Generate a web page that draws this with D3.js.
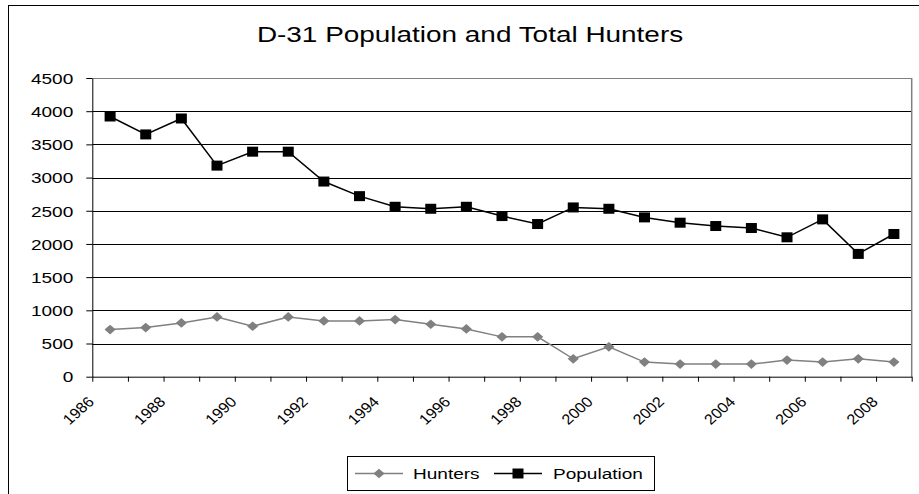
<!DOCTYPE html>
<html>
<head>
<meta charset="utf-8">
<script src="https://cdn.jsdelivr.net/npm/d3@7/dist/d3.min.js"></script>
<style>
  body { margin: 0; background: #fff; }
  text { font-family: "Liberation Sans", Arial, sans-serif; fill: #000; }
</style>
</head>
<body>
<script>
// chart data
var years = [1986, 1987, 1988, 1989, 1990, 1991, 1992, 1993, 1994, 1995, 1996, 1997,
             1998, 1999, 2000, 2001, 2002, 2003, 2004, 2005, 2006, 2007, 2008];
var population = [3920, 3650, 3890, 3180, 3390, 3390, 2940, 2720, 2560, 2530, 2560, 2420,
                  2300, 2550, 2530, 2400, 2320, 2270, 2240, 2100, 2370, 1850, 2150];
var hunters = [710, 740, 810, 900, 760, 900, 840, 840, 860, 790, 720, 600,
               600, 270, 450, 220, 190, 190, 190, 250, 220, 270, 220];
var yTicks = [0, 500, 1000, 1500, 2000, 2500, 3000, 3500, 4000, 4500];
var xLabels = [1986, 1988, 1990, 1992, 1994, 1996, 1998, 2000, 2002, 2004, 2006, 2008];

function draw_chart() {
    var width = 919;
    var height = 494;
    var stretch = 1.27;   // horizontal text in the picture is a bit wide

    var left = 92.3, right = 911.7, top = 78, bottom = 376.7;

    var svg = d3.select("body").append("svg")
                .attr("width", width)
                .attr("height", height);

    // outer chart border
    svg.append("rect")
        .attr("x", 8.5).attr("y", 5.5)
        .attr("width", 920).attr("height", 500)
        .attr("fill", "none")
        .attr("stroke", "#000");

    // title
    svg.append("text")
        .attr("transform", "translate(470,42) scale(" + stretch + ",1)")
        .attr("text-anchor", "middle")
        .style("font-size", "22px")
        .text("D-31 Population and Total Hunters");

    var x = d3.scaleBand().domain(years).range([left, right]).padding(0);
    var xEdge = d3.scaleLinear().domain([0, years.length]).range([left, right]);
    var y = d3.scaleLinear().domain([0, 4500]).range([bottom, top]);

    function cx(d, i) { return x(years[i]) + x.bandwidth() / 2; }

    // gridlines
    svg.append("g")
        .selectAll("line")
        .data(yTicks.filter(function(t) { return t > 0; }))
        .enter()
        .append("line")
        .attr("x1", left).attr("x2", right)
        .attr("y1", function(d) { return Math.round(y(d)) + 0.5; })
        .attr("y2", function(d) { return Math.round(y(d)) + 0.5; })
        .attr("stroke", function(d) { return d == 4500 ? "#808080" : "#000"; })
        .attr("stroke-width", 1);

    // right border of plot area
    svg.append("line")
        .attr("x1", right).attr("x2", right)
        .attr("y1", y(4500)).attr("y2", bottom)
        .attr("stroke", "#808080")
        .attr("stroke-width", 1.5);

    // y axis
    var yAxis = svg.append("g")
        .attr("transform", "translate(" + left + ",0)")
        .call(d3.axisLeft(y).tickValues(yTicks).tickSize(6).tickSizeOuter(0)
              .tickFormat(d3.format("d")));
    yAxis.select(".domain").attr("stroke", "#000");
    yAxis.selectAll(".tick line").attr("stroke", "#000");
    yAxis.selectAll(".tick text")
        .attr("x", null)
        .attr("dy", "0.35em")
        .attr("transform", "translate(-19,0) scale(" + stretch + ",1)")
        .style("font-size", "15px")
        .attr("fill", "#000");

    // x axis with ticks at category edges
    var xAxis = svg.append("g")
        .attr("transform", "translate(0," + bottom + ")")
        .call(d3.axisBottom(xEdge).tickValues(d3.range(years.length + 1))
              .tickSize(5).tickSizeOuter(0).tickFormat(""));
    xAxis.select(".domain").attr("stroke", "#000");
    xAxis.selectAll(".tick line").attr("stroke", "#000");

    svg.append("g")
        .selectAll("text")
        .data(xLabels)
        .enter()
        .append("text")
        .attr("transform", function(d) {
            var px = x(d) + x.bandwidth() / 2 - 15;
            return "translate(" + px + "," + (bottom + 26) + ") scale(1.12,1) rotate(-45)";
        })
        .attr("text-anchor", "end")
        .style("font-size", "14.5px")
        .text(function(d) { return d; });

    var line = d3.line()
        .x(cx)
        .y(function(d) { return y(d); });

    // hunters
    svg.append("path")
        .datum(hunters)
        .attr("d", line)
        .attr("fill", "none")
        .attr("stroke", "#808080")
        .attr("stroke-width", 1.5);

    svg.append("g")
        .selectAll("path")
        .data(hunters)
        .enter()
        .append("path")
        .attr("d", d3.symbol().type(d3.symbolDiamond2).size(60))
        .attr("transform", function(d, i) {
            return "translate(" + cx(d, i) + "," + y(d) + ") scale(1.15,1)";
        })
        .attr("fill", "#808080");

    // population
    svg.append("path")
        .datum(population)
        .attr("d", line)
        .attr("fill", "none")
        .attr("stroke", "#000")
        .attr("stroke-width", 1.5);

    svg.append("g")
        .selectAll("rect")
        .data(population)
        .enter()
        .append("rect")
        .attr("x", function(d, i) { return cx(d, i) - 5.5; })
        .attr("y", function(d) { return y(d) - 5; })
        .attr("width", 11)
        .attr("height", 10)
        .attr("fill", "#000");

    // legend
    var legend = svg.append("g");
    legend.append("rect")
        .attr("x", 347.5).attr("y", 456.5)
        .attr("width", 307).attr("height", 34)
        .attr("fill", "#fff")
        .attr("stroke", "#000");

    legend.append("line")
        .attr("x1", 355).attr("x2", 403)
        .attr("y1", 473.5).attr("y2", 473.5)
        .attr("stroke", "#808080").attr("stroke-width", 1.5);
    legend.append("path")
        .attr("d", d3.symbol().type(d3.symbolDiamond2).size(60))
        .attr("transform", "translate(379,473.5) scale(1.15,1)")
        .attr("fill", "#808080");
    legend.append("text")
        .attr("transform", "translate(413,479) scale(" + stretch + ",1)")
        .style("font-size", "15px")
        .text("Hunters");

    legend.append("line")
        .attr("x1", 494).attr("x2", 542)
        .attr("y1", 473.5).attr("y2", 473.5)
        .attr("stroke", "#000").attr("stroke-width", 1.5);
    legend.append("rect")
        .attr("x", 512.5).attr("y", 468.5)
        .attr("width", 11).attr("height", 10)
        .attr("fill", "#000");
    legend.append("text")
        .attr("transform", "translate(553,479) scale(" + stretch + ",1)")
        .style("font-size", "15px")
        .text("Population");
}

document.addEventListener("DOMContentLoaded", draw_chart);
</script>
</body>
</html>
